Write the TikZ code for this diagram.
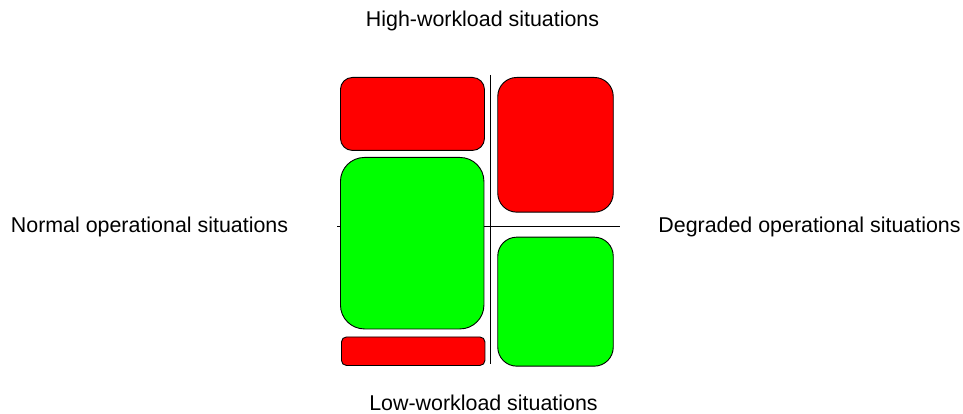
\documentclass[tikz,border=0pt]{standalone}
\usepackage{fontspec}
\setmainfont{Liberation Sans}
\begin{document}
\begin{tikzpicture}[x=1pt,y=-1pt,
  box/.style={draw=black, line width=0.9pt, inner sep=0pt, anchor=north west},
  redbox/.style={box, fill=red},
  greenbox/.style={box, fill=green},
  axis/.style={draw=black, line width=1pt},
  lbl/.style={inner sep=0pt, anchor=base, font=\fontsize{21.4}{25}\selectfont}]
\useasboundingbox (0,0) rectangle (963,414);
% axes
\coordinate (vtop) at (490,75);
\coordinate (vbot) at (490,363.5);
\coordinate (hleft) at (337,226.7);
\coordinate (hright) at (620,226.7);
\draw[axis] (vtop) -- (vbot);
\draw[axis] (hleft) -- (hright);
% boxes
\node[redbox, rounded corners=12pt, minimum width=144pt, minimum height=73pt] (tl) at (340,77) {};
\node[greenbox, rounded corners=24pt, minimum width=143.5pt, minimum height=171.5pt] (ml) at (340,157) {};
\node[redbox, rounded corners=5pt, minimum width=143.5pt, minimum height=28.5pt] (bl) at (341,336.5) {};
\node[redbox, rounded corners=19pt, minimum width=115.5pt, minimum height=134.7pt] (tr) at (497.3,77) {};
\node[greenbox, rounded corners=19pt, minimum width=115.5pt, minimum height=129pt] (br) at (497.3,236.7) {};
% labels
\node[lbl] (high) at (482.5,27) {High-workload situations};
\node[lbl] (low) at (483.5,410.5) {Low-workload situations};
\node[lbl] (normal) at (149.5,232) {Normal operational situations};
\node[lbl] (degraded) at (809.5,232) {Degraded operational situations};
\end{tikzpicture}
\end{document}
